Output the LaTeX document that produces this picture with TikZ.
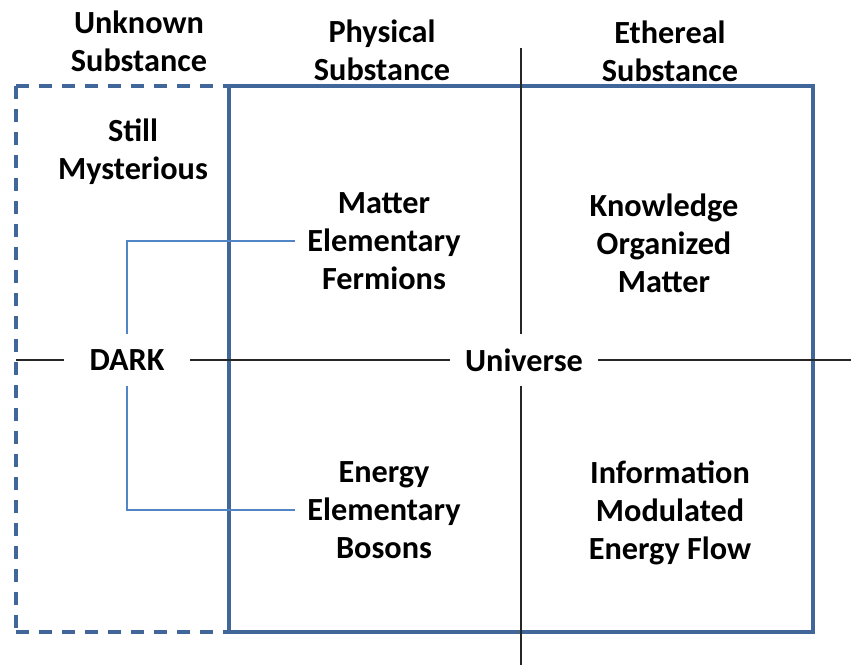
\documentclass[tikz,border=0pt]{standalone}
\usepackage{fontspec}
\setmainfont{Carlito}
\definecolor{frameblue}{HTML}{41679A}
\definecolor{linkblue}{HTML}{5285C6}
\definecolor{axisgray}{HTML}{262626}
\begin{document}
\begin{tikzpicture}[x=0.75pt,y=-0.75pt,
  txt/.style={font=\bfseries\fontsize{24.2}{28.5}\selectfont, align=center, inner sep=0pt},
  quad/.style={txt, inner xsep=9pt},
  hub/.style={txt, minimum height=39pt},
  frame/.style={draw=frameblue, line width=2.3pt},
  dashframe/.style={frame, dash pattern=on 9.75pt off 7.5pt},
  axis/.style={draw=axisgray, line width=1.5pt},
  link/.style={draw=linkblue, line width=1.1pt}]
\useasboundingbox (0,0) rectangle (851,665);

% column headings
\node[txt] (unknown)  at (139,41)  {Unknown\\Substance};
\node[txt] (physical) at (382,50)  {Physical\\Substance};
\node[txt] (ethereal) at (670,51)  {Ethereal\\Substance};

% frames
\draw[dashframe] (16,86) -- (229,86);
\draw[dashframe] (16,86) -- (16,632);
\draw[dashframe] (16,632) -- (229,632);
\draw[frame] (229,86) rectangle (813,632);

% quadrant texts
\node[txt]  (still)     at (133,152) {Still\\Mysterious};
\node[quad] (matter)    at (384,241) {Matter\\Elementary\\Fermions};
\node[txt]  (knowledge) at (664,243) {Knowledge\\Organized\\Matter};
\node[quad] (energy)    at (384,510) {Energy\\Elementary\\Bosons};
\node[txt]  (info)      at (670,512.5) {Information\\Modulated\\Energy Flow};

% hubs on the axis
\node[hub, minimum width=94.5pt] (dark) at (127,360) {DARK};
\node[hub, minimum width=111pt] (universe) at (524,360) {Universe};

% axes
\coordinate (axleft)   at (16,360);
\coordinate (axright)  at (851,360);
\coordinate (axtop)    at (521,48);
\coordinate (axbottom) at (521,665);
\draw[axis] (axleft) -- (dark.west);
\draw[axis] (dark.east) -- (universe.west);
\draw[axis] (universe.east) -- (axright);
\draw[axis] (axtop) -- (axtop |- universe.north);
\draw[axis] (axbottom |- universe.south) -- (axbottom);

% links from DARK to matter and energy
\draw[link] (dark.north) |- (matter.west);
\draw[link] (dark.south) |- (energy.west);
\end{tikzpicture}
\end{document}
